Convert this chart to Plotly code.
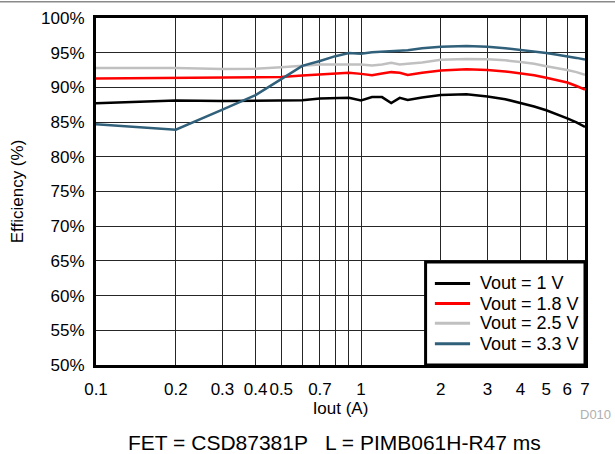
import numpy as np
import plotly.graph_objects as go

# Output current (A)
iout = [0.1, 0.2, 0.3, 0.4, 0.5, 0.6, 0.7, 0.8, 0.9, 1.0, 1.1, 1.2, 1.3, 1.4,
        1.5, 1.7, 2.0, 2.5, 3.0, 3.5, 4.0, 4.5, 5.0, 5.5, 6.0, 6.5, 7.0]

# Efficiency (%) per output voltage
eff_1v0 = [87.7, 88.1, 88.05, 88.05, 88.05, 88.15, 88.4, 88.5, 88.5, 88.13, 88.6, 88.6, 87.75, 88.5,
           88.2, 88.55, 88.9, 89.0, 88.7, 88.3, 87.75, 87.25, 86.7, 86.15, 85.55, 84.95, 84.3]
eff_1v8 = [91.3, 91.4, 91.4, 91.45, 91.5, 91.7, 91.85, 91.95, 92.1, 91.95, 91.75, 92.0, 92.2, 92.1,
           91.8, 92.1, 92.45, 92.6, 92.5, 92.3, 92.05, 91.75, 91.4, 91.05, 90.7, 90.2, 89.7]
eff_2v5 = [92.8, 92.8, 92.65, 92.7, 92.9, 93.15, 93.3, 93.3, 93.35, 93.3, 93.15, 93.3, 93.55, 93.3,
           93.4, 93.6, 94.0, 94.1, 94.05, 93.9, 93.65, 93.4, 93.05, 92.8, 92.5, 92.2, 91.8]
eff_3v3 = [84.7, 83.9, 86.8, 88.9, 91.2, 93.1, 93.8, 94.5, 94.95, 94.85, 95.05, 95.15, 95.25, 95.3,
           95.35, 95.65, 95.85, 95.95, 95.85, 95.65, 95.4, 95.2, 94.95, 94.7, 94.5, 94.25, 94.0]

series_names = ["Vout = 1 V", "Vout = 1.8 V", "Vout = 2.5 V", "Vout = 3.3 V"]
series_colors = ["#000000", "#ff0000", "#c0c0c0", "#31607a"]

# x ticks (grid at every position, labels only at some)
x_tickvals = [0.1, 0.2, 0.3, 0.4, 0.5, 0.6, 0.7, 0.8, 0.9, 1, 2, 3, 4, 5, 6, 7]
x_ticktext = ["0.1", "0.2", "0.3", "0.4", "0.5", "", "0.7", "", "", "1", "2", "3", "4", "5", "6", "7"]

FONT = "Liberation Sans, Arial, Helvetica, sans-serif"

fig = go.Figure()
for name, color, eff in zip(series_names, series_colors, [eff_1v0, eff_1v8, eff_2v5, eff_3v3]):
    fig.add_trace(go.Scatter(x=iout, y=eff, mode="lines", name=name,
                             line=dict(color=color, width=2.5)))

fig.update_layout(
    width=615, height=454,
    margin=dict(l=96, r=30, t=18, b=89),
    paper_bgcolor="white", plot_bgcolor="white",
    font=dict(family=FONT, size=17, color="#000000"),
    showlegend=False,
)

fig.update_xaxes(
    type="log", range=[np.log10(0.1), np.log10(7)],
    tickvals=x_tickvals, ticktext=x_ticktext, tickangle=0,
    showgrid=True, gridcolor="#262626", gridwidth=1,
    showline=True, linecolor="#000000", linewidth=3, mirror=True,
    ticks="", ticklabelstandoff=7, automargin=False,
    tickfont=dict(size=17),
    title=dict(text="Iout (A)", font=dict(size=17), standoff=2),
)
fig.update_yaxes(
    range=[50, 100], dtick=5, ticksuffix="%",
    showgrid=True, gridcolor="#262626", gridwidth=1,
    showline=True, linecolor="#000000", linewidth=3, mirror=True,
    ticks="", ticklabelstandoff=5, automargin=False,
    tickfont=dict(size=17),
    title=dict(text="Efficiency (%)", font=dict(size=17), standoff=14),
    zeroline=False,
)

# legend box drawn in the lower right corner of the plot
fig.add_shape(type="rect", xref="paper", yref="paper", x0=0.674, x1=1.0, y0=0.0, y1=0.297,
              fillcolor="white", line=dict(color="#000000", width=3))
legend_rows = [0.235, 0.177, 0.120, 0.061]
for name, color, yy in zip(series_names, series_colors, legend_rows):
    fig.add_shape(type="line", xref="paper", yref="paper", x0=0.693, x1=0.765, y0=yy, y1=yy,
                  line=dict(color=color, width=3))
    fig.add_annotation(text=name, xref="paper", yref="paper", x=0.781, y=yy,
                       xanchor="left", yanchor="middle", showarrow=False,
                       font=dict(size=18))

fig.add_annotation(text="FET = CSD87381P   L = PIMB061H-R47 ms",
                   xref="paper", yref="paper", x=0.488, y=-0.224,
                   xanchor="center", yanchor="middle", showarrow=False,
                   font=dict(size=21))
fig.add_annotation(text="D010", xref="paper", yref="paper", x=1.058, y=-0.144,
                   xanchor="right", yanchor="middle", showarrow=False,
                   font=dict(size=13, color="#b0b0b0"))

# thin grey rule along the top edge of the page
fig.add_shape(type="line", xref="paper", yref="paper", x0=-0.2, x1=1.07,
              y0=1.047, y1=1.047, line=dict(color="#8a8a8a", width=1.5))

# drop the default body margin so the figure fills the window exactly
fig.write_html("out.html", config={"displayModeBar": False},
               post_script="document.body.style.margin='0';")
